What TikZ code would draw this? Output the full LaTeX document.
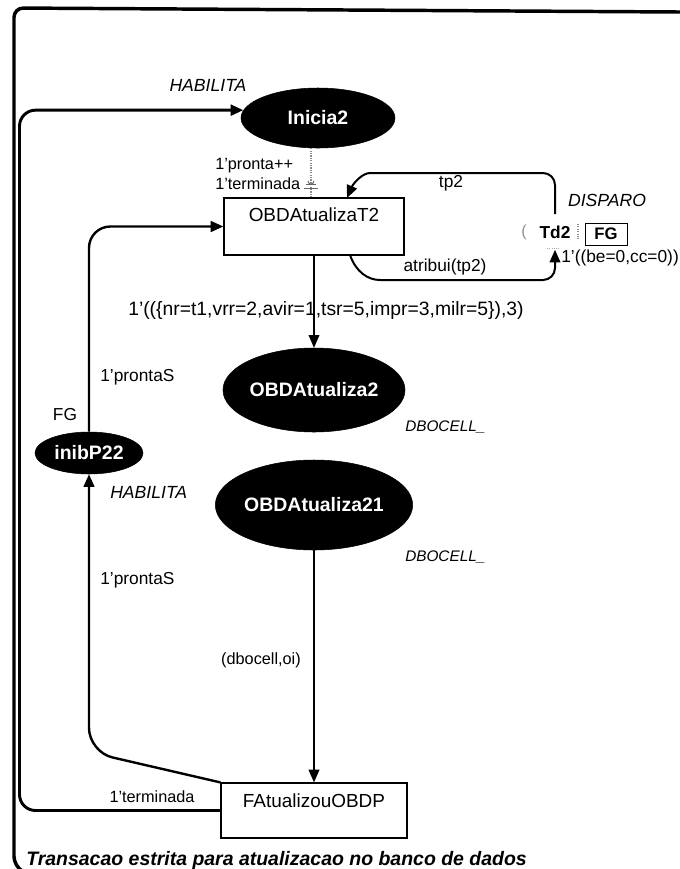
\documentclass[tikz,border=0pt]{standalone}
\usepackage{fontspec}
\setmainfont{Liberation Sans}
\usetikzlibrary{arrows.meta,shapes.geometric}
\begin{document}
\begin{tikzpicture}[x=0.75pt,y=-0.75pt,
  place/.style={ellipse,fill=black,draw=black,inner sep=0pt,text=white,
    font=\fontsize{14.6}{17}\bfseries\selectfont},
  transbox/.style={rectangle,draw=black,line width=0.9pt,inner sep=0pt,
    font=\fontsize{14.2}{17}\selectfont},
  insc/.style={inner sep=0pt,font=\fontsize{13}{15}\selectfont},
  inscsm/.style={inner sep=0pt,font=\fontsize{12.2}{14}\selectfont},
  tagit/.style={inner sep=0pt,font=\fontsize{13.2}{15}\itshape\selectfont},
  tagsm/.style={inner sep=0pt,font=\fontsize{11.5}{14}\itshape\selectfont},
  tipA/.style={-{Triangle[length=9.5pt,width=8pt]}},
  habarc/.style={tipA,line width=2.2pt,rounded corners=12pt},
  arcB/.style={tipA,line width=1.5pt,rounded corners=9pt},
  arcC/.style={tipA,line width=1.1pt},
  arcD/.style={tipA,line width=1.8pt,rounded corners=16pt},
  frameline/.style={line width=2.6pt,rounded corners=7pt}
]
\useasboundingbox (0,0) rectangle (680,869);

% outer frame
\draw[frameline] (680,12) -- (14,8) -- (14,866) -- (19,869);

% places
\node[place,minimum width=115.5pt,minimum height=45pt] (inicia) at (318,118) {Inicia2};
\node[place,minimum width=130.5pt,minimum height=63pt] (obd2) at (314,390) {OBDAtualiza2};
\node[place,minimum width=133.5pt,minimum height=67.5pt] (obd21) at (314,505) {OBDAtualiza21};
\node[place,minimum width=81pt,minimum height=31.5pt] (inib) at (89,453) {inibP22};

% transitions
\node[transbox,minimum width=135pt,text height=17.25pt,text depth=25.5pt] (obdt2) at (314,226.5) {OBDAtualizaT2};
\node[transbox,minimum width=139.5pt,text height=18pt,text depth=23.25pt] (fa) at (314,810.5) {FAtualizouOBDP};
\node[inner sep=0pt,minimum width=36pt,minimum height=26.25pt,
  font=\fontsize{13}{15}\bfseries\selectfont] (td2) at (555,232) {Td2};
\node[draw,line width=0.6pt,inner sep=0pt,minimum width=31.5pt,minimum height=16.5pt,
  font=\fontsize{12.5}{15}\bfseries\selectfont] (fg) at (606,234) {FG};

% faint marks of the Td2 outline
\node[inner sep=0pt,text=black!45,font=\fontsize{12}{14}\selectfont] (tdl) at (524,232) {(};
\draw[black!45,densely dotted,line width=0.8pt] (578,224) -- (578,240);
\draw[black!35,densely dotted,line width=0.7pt] (547,248) -- (559,248);

% dotted arc between Inicia2 and OBDAtualizaT2
\draw[black!45,densely dotted,line width=0.8pt] (inicia.south -| 311,0) -- (obdt2.north -| 311,0);
\draw[black!60,line width=0.7pt] (306,184) -- (316,184);
\draw[black!60,line width=0.7pt] (304,188) -- (318,188);
\draw[black!60,line width=0.7pt] (308,181) arc[start angle=180,end angle=0,radius=3];

% connectors
\coordinate (rail) at (19.5,450);
\draw[habarc] (fa.west) -| (rail) |- (inicia.174);

\coordinate (tpa) at (382,173);
\coordinate (t2in) at (347,198);
\draw[arcB] (td2.north) |- (tpa) .. controls (362,173) and (353,184) .. (t2in);

\coordinate (b2out) at (350,255);
\coordinate (atb) at (392,280);
\draw[arcB] (b2out) .. controls (356,272) and (368,280) .. (atb) -| (td2.south);

\draw[arcC] (obdt2.south) -- (obd2.north);
\draw[arcC] (obd21.south) -- (fa.north);

\draw[arcD] (inib.north) |- (obdt2.west);
\coordinate (ibend) at (89,752);
\draw[arcD,rounded corners=18pt] (fa.north west) -- (ibend) -- (inib.south);

% inscriptions
\node[tagit] (hab1) at (208,85) {HABILITA};
\node[inscsm,anchor=west] (pr1) at (215,166) {1'pronta++};
\node[inscsm,anchor=west] (te1) at (215,184) {1'terminada};
\node[insc] (tp2) at (451,183) {tp2};
\node[tagit] (disp) at (607,200) {DISPARO};
\node[insc] (atr) at (445,267) {atribui(tp2)};
\node[insc,anchor=west] (bece) at (561,258) {1'((be=0,cc=0))};
\node[inner sep=0pt,anchor=west,font=\fontsize{14.5}{17}\selectfont] (nrl) at (128,310)
  {1'((\{nr=t1,vrr=2,avir=1,tsr=5,impr=3,milr=5\}),3)};
\node[insc,anchor=west] (ps1) at (100,377) {1'prontaS};
\node[insc] (fgl) at (65,415) {FG};
\node[tagsm,anchor=west] (db1) at (405,427) {DBOCELL\_};
\node[tagit,anchor=west] (hab2) at (110,492) {HABILITA};
\node[tagsm,anchor=west] (db2) at (405,557) {DBOCELL\_};
\node[insc,anchor=west] (ps2) at (100,580) {1'prontaS};
\node[inscsm] (dbo) at (261,660) {(dbocell,oi)};
\node[inscsm] (te2) at (152,797) {1'terminada};
\node[inner sep=0pt,anchor=west,font=\fontsize{14.6}{17}\bfseries\itshape\selectfont] (cap) at (26,860)
  {Transacao estrita para atualizacao no banco de dados};
\end{tikzpicture}
\end{document}
